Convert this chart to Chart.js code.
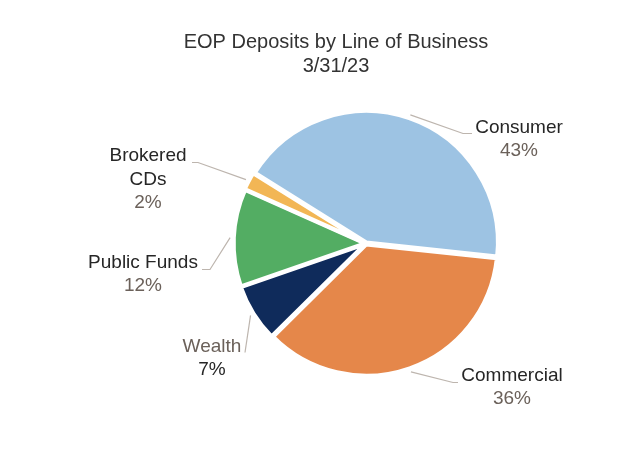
<!DOCTYPE html>
<html>
<head>
<meta charset="utf-8">
<script src="https://cdn.jsdelivr.net/npm/chart.js@4.4.1/dist/chart.umd.min.js"></script>
<style>
html,body{margin:0;padding:0;background:#fff;}
#wrap{width:640px;height:469px;}
</style>
</head>
<body>
<div id="wrap"><canvas id="c" width="640" height="469"></canvas></div>
<script>
// ---- data ----
const categories = ['Consumer', 'Commercial', 'Wealth', 'Public Funds', 'Brokered CDs'];
const values = [42.8, 35.9, 7.1, 12.0, 2.2];
const pctLabels = ['43%', '36%', '7%', '12%', '2%'];
const titleLines = ['EOP Deposits by Line of Business', '3/31/23'];

// ---- styles ----
const colors = ['#9DC3E3', '#E5874A', '#0F2B5B', '#53AD63', '#F2B655'];
const nameLines = [['Consumer'], ['Commercial'], ['Wealth'], ['Public Funds'], ['Brokered', 'CDs']];
const nameColor = ['#262626', '#262626', '#6b615a', '#262626', '#262626'];
const pctColor = ['#6b615a', '#6b615a', '#262626', '#6b615a', '#6b615a'];
// label layout, offsets from pie center (px)
const labelLayout = [
  {elbow: [97, -110], endX: 106, tx: 153, ty: -116},
  {elbow: [87, 139], endX: 92, tx: 146, ty: 132},
  {elbow: [-121, 109], endX: -121, tx: -154, ty: 103},
  {elbow: [-156, 26], endX: -164, tx: -223, ty: 19},
  {elbow: [-168, -81], endX: -174, tx: -218, ty: -88}
];
const LINE_H = 24;
const FONT = '"Liberation Sans", Arial, sans-serif';

const labelPlugin = {
  id: 'labels',
  afterDraw(chart) {
    const ctx = chart.ctx;
    const meta = chart.getDatasetMeta(0);
    ctx.save();
    // title
    ctx.fillStyle = '#333333';
    ctx.font = '20px ' + FONT;
    ctx.textAlign = 'center';
    ctx.textBaseline = 'middle';
    titleLines.forEach((t, i) => ctx.fillText(t, 336, 42 + i * 24));

    meta.data.forEach((arc, i) => {
      const p = arc.getProps(['x', 'y', 'startAngle', 'endAngle', 'outerRadius']);
      const mid = (p.startAngle + p.endAngle) / 2;
      const r = p.outerRadius + 5;
      const sx = p.x + Math.cos(mid) * r;
      const sy = p.y + Math.sin(mid) * r;
      const L = labelLayout[i];
      const ex = p.x + L.elbow[0], ey = p.y + L.elbow[1];
      ctx.strokeStyle = '#bdb5ae';
      ctx.lineWidth = 1.2;
      ctx.beginPath();
      ctx.moveTo(sx, sy);
      ctx.lineTo(ex, ey);
      ctx.lineTo(p.x + L.endX, ey);
      ctx.stroke();

      ctx.font = '19px ' + FONT;
      ctx.textAlign = 'center';
      ctx.textBaseline = 'middle';
      const lines = nameLines[i];
      let y = p.y + L.ty;
      lines.forEach((ln) => {
        ctx.fillStyle = nameColor[i];
        ctx.fillText(ln, p.x + L.tx, y);
        y += LINE_H;
      });
      ctx.fillStyle = pctColor[i];
      ctx.fillText(pctLabels[i], p.x + L.tx, y - 1);
    });
    ctx.restore();
  }
};

new Chart(document.getElementById('c'), {
  type: 'pie',
  data: {
    labels: categories,
    datasets: [{
      data: values,
      backgroundColor: colors,
      borderColor: '#ffffff',
      borderWidth: 4,
      offset: 4
    }]
  },
  options: {
    responsive: false,
    animation: false,
    rotation: -58,
    radius: 131,
    layout: {padding: {left: 216, right: 124, top: 93, bottom: 75}},
    plugins: {
      legend: {display: false},
      title: {display: false},
      tooltip: {enabled: false}
    }
  },
  plugins: [labelPlugin]
});
</script>
</body>
</html>
